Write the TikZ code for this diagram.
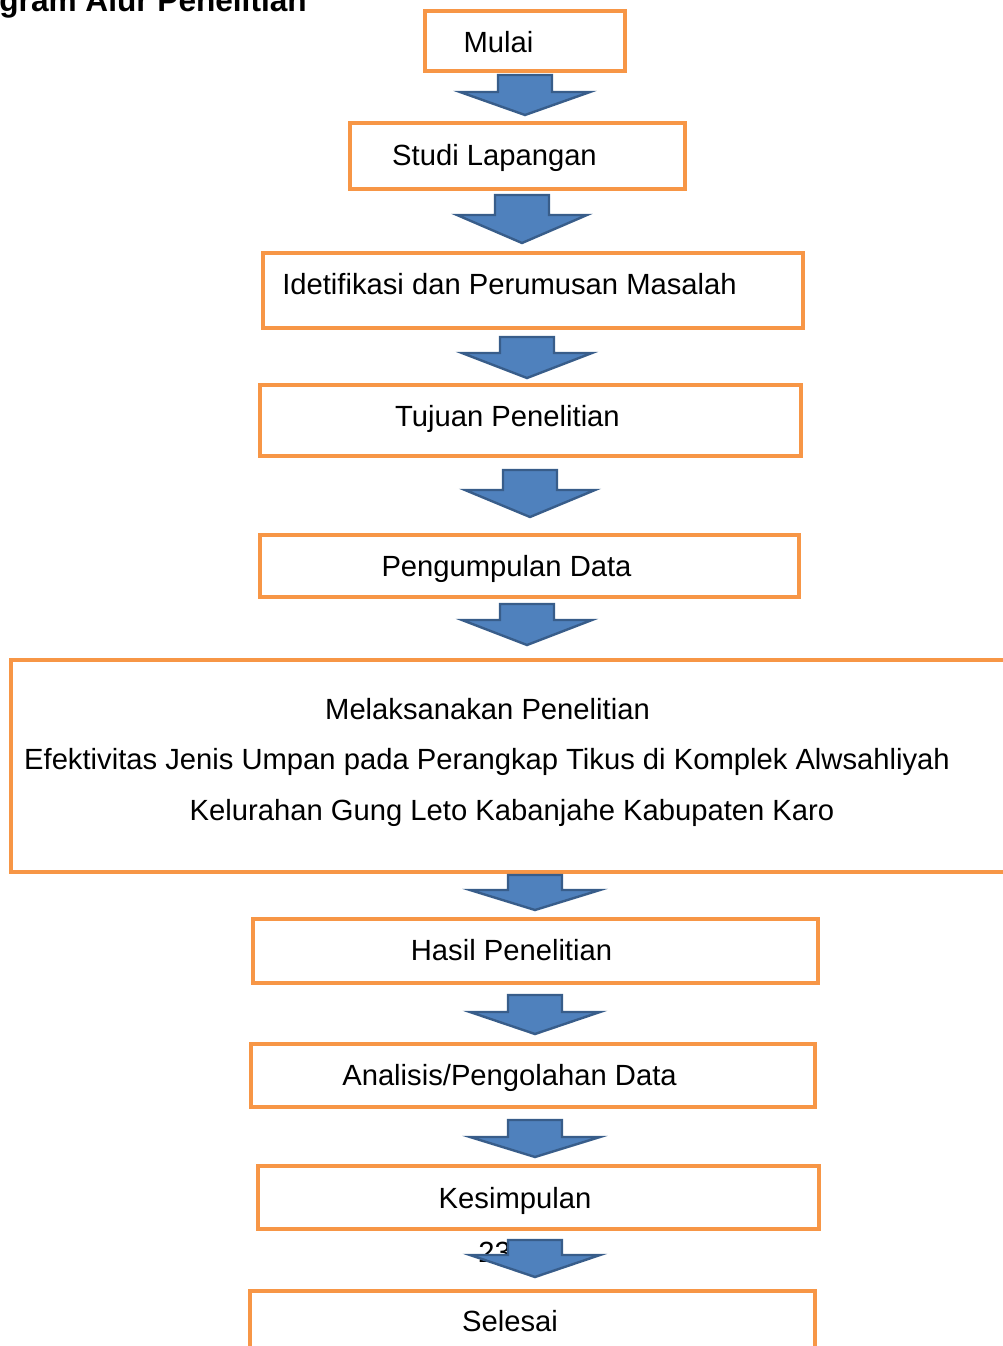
\documentclass[tikz,border=0pt]{standalone}
\usepackage{fontspec}
\setmainfont{Liberation Sans}
\definecolor{boxorange}{HTML}{F79646}
\definecolor{arrowfill}{HTML}{4F81BD}
\definecolor{arrowline}{HTML}{385D8A}
\tikzset{
  stage/.style={draw=boxorange, line width=3pt, fill=white},
  stagetext/.style={anchor=base, inner sep=0pt, font=\fontsize{21.9}{26}\selectfont},
  flowarrow/.style={fill=arrowfill, draw=arrowline, line width=1.8pt, line join=miter}
}
\begin{document}
\begin{tikzpicture}[x=0.75pt, y=-0.75pt]
  \useasboundingbox (0,0) rectangle (1003,1346);
  \node [anchor=base east, inner sep=0pt, font=\bfseries\fontsize{23.7}{28}\selectfont] (judul) at (307,11) {gram Alur Penelitian};
  % kotak tahapan
  \draw [stage] (425,11) rectangle (625,71);
  \node [stagetext] (mulai) at (498.5,52) {Mulai};
  \draw [stage] (350,123) rectangle (685,189);
  \node [stagetext] (studi) at (494.5,165) {Studi Lapangan};
  \draw [stage] (263,253) rectangle (803,328);
  \node [stagetext] (identifikasi) at (509.5,294) {Idetifikasi dan Perumusan Masalah};
  \draw [stage] (260,385) rectangle (801,456);
  \node [stagetext] (tujuan) at (507.5,426) {Tujuan Penelitian};
  \draw [stage] (260,535) rectangle (799,597);
  \node [stagetext] (data) at (506.5,576) {Pengumpulan Data};
  \draw [stage] (11,660) rectangle (1015,872);
  \node [stagetext] (laksana) at (487.5,719) {Melaksanakan Penelitian};
  \node [stagetext] (judul1) at (487,769) {Efektivitas Jenis Umpan pada Perangkap Tikus di Komplek Alwsahliyah};
  \node [stagetext] (judul2) at (512,820) {Kelurahan Gung Leto Kabanjahe Kabupaten Karo};
  \draw [stage] (253,919) rectangle (818,983);
  \node [stagetext] (hasil) at (511.5,960) {Hasil Penelitian};
  \draw [stage] (251,1044) rectangle (815,1107);
  \node [stagetext] (analisis) at (509.5,1085) {Analisis/Pengolahan Data};
  \draw [stage] (258,1166) rectangle (819,1229);
  \node [stagetext] (simpul) at (515,1208) {Kesimpulan};
  \draw [stage] (250,1291) rectangle (815,1370);
  \node [stagetext] (selesai) at (510,1331) {Selesai};
  \node [stagetext, anchor=base west] (halaman) at (478,1262) {23};
  % panah blok
  \foreach \cx/\yt/\yb/\yp in {525/75/92/115, 522/195/215/243, 527/337/353/378,
      530/470/490/517, 527/604/620/645, 535/875/890/910, 535/995/1012/1034,
      535/1120/1137/1157, 535/1240/1255/1277}
  {
    \draw [flowarrow] (\cx-27,\yt) -- (\cx+27,\yt) -- (\cx+27,\yb) -- (\cx+65,\yb)
      -- (\cx,\yp) -- (\cx-65,\yb) -- (\cx-27,\yb) -- cycle;
  }
\end{tikzpicture}
\end{document}
